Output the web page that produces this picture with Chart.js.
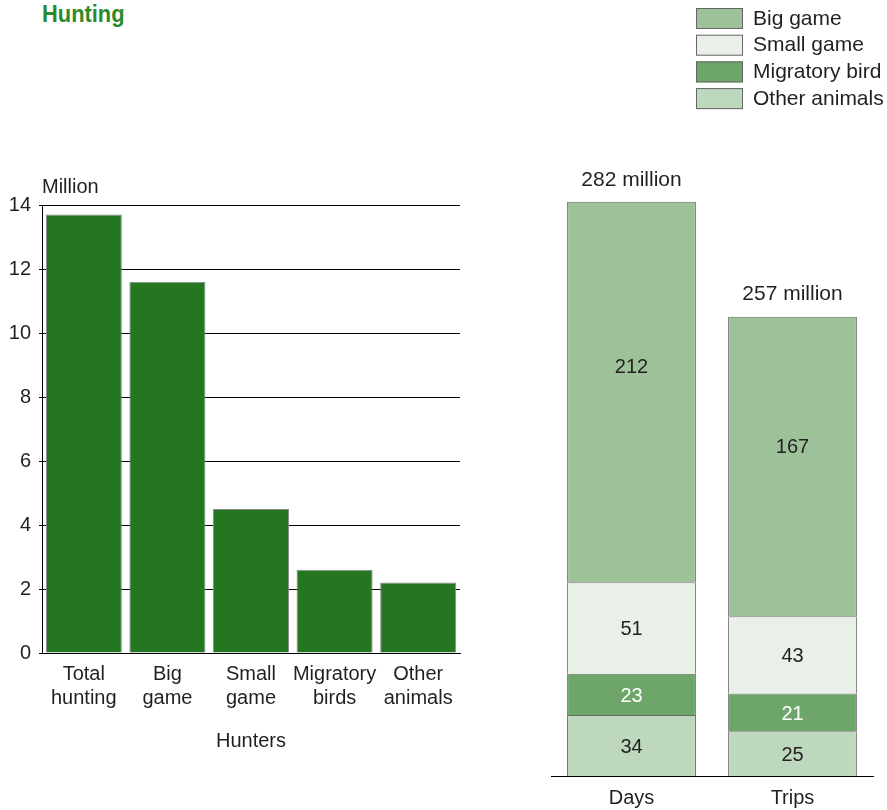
<!DOCTYPE html>
<html>
<head>
<meta charset="utf-8">
<script src="https://cdn.jsdelivr.net/npm/chart.js@4.4.1/dist/chart.umd.min.js"></script>
<style>
  html, body { margin: 0; padding: 0; background: #fff; width: 887px; height: 810px; overflow: hidden; }
  #title { position: absolute; left: 42px; top: 1px; font-family: "Liberation Sans", Arial, sans-serif; font-weight: bold; font-size: 23px; color: #2c8a2a; white-space: nowrap; transform: scaleX(0.95); transform-origin: left top; }
  #c1 { position: absolute; left: 0; top: 0; }
  #c2 { position: absolute; left: 540px; top: 0; }
</style>
</head>
<body>
<div id="title">Hunting</div>
<canvas id="c1" width="480" height="810"></canvas>
<canvas id="c2" width="347" height="810"></canvas>
<script>
// ---- Data ----
const hunterCategories = [["Total", "hunting"], ["Big", "game"], ["Small", "game"], ["Migratory", "birds"], ["Other", "animals"]];
const hunterValues = [13.7, 11.6, 4.5, 2.6, 2.2];
const yTicks = [0, 2, 4, 6, 8, 10, 12, 14];

const activityCategories = ["Days", "Trips"];
const activityTotals = [282, 257];
const seriesNames = ["Other animals", "Migratory bird", "Small game", "Big game"];
const otherAnimals = [34, 25];
const migratoryBird = [23, 21];
const smallGame = [51, 43];
const bigGame = [212, 167];

const FONT = "'Liberation Sans', Arial, Helvetica, sans-serif";
const TEXT = "#231f20";
Chart.defaults.font.family = FONT;
Chart.defaults.color = TEXT;

// ---- Left chart ----
const millionLabel = {
  id: 'millionLabel',
  afterDraw(chart) {
    const ctx = chart.ctx, a = chart.chartArea;
    ctx.save();
    ctx.font = "20px " + FONT;
    ctx.fillStyle = TEXT;
    ctx.textAlign = 'left';
    ctx.textBaseline = 'middle';
    ctx.fillText('Million', a.left, a.top - 18);
    ctx.restore();
  }
};

new Chart(document.getElementById('c1'), {
  type: 'bar',
  data: {
    labels: hunterCategories,
    datasets: [{
      label: 'Hunters',
      data: hunterValues,
      backgroundColor: '#257620',
      borderColor: '#8a8a8a',
      borderWidth: 1,
      categoryPercentage: 1.0,
      barPercentage: 0.91
    }]
  },
  options: {
    responsive: false,
    devicePixelRatio: 1,
    animation: false,
    layout: { padding: { top: 205, right: 20, left: 0, bottom: 0 } },
    plugins: { legend: { display: false }, tooltip: { enabled: false } },
    scales: {
      x: {
        grid: { display: false, drawTicks: false },
        border: { display: true, color: '#000', width: 1 },
        ticks: { font: { size: 20, lineHeight: 1.2 }, color: TEXT, padding: 9, maxRotation: 0, autoSkip: false },
        title: { display: true, text: 'Hunters', font: { size: 20, lineHeight: 1.2 }, color: TEXT, padding: { top: 0, bottom: 57 } },
        afterFit(s) { s.height = 157; }
      },
      y: {
        min: 0, max: 14,
        afterBuildTicks(s) { s.ticks = yTicks.map(v => ({ value: v })); },
        grid: { color: '#000', lineWidth: 1, tickLength: 3, drawTicks: true },
        border: { display: true, color: '#000', width: 1 },
        ticks: { font: { size: 20 }, color: TEXT, padding: 8 },
        afterFit(s) { s.width = 42; }
      }
    }
  },
  plugins: [millionLabel]
});

// ---- Right chart ----
const segColors = ['#bdd8bc', '#6ea66a', '#e8f0e8', '#9dc29a'];
const segLabelColors = [TEXT, '#ffffff', TEXT, TEXT];
const legendOrder = [3, 2, 1, 0];

const stackLabels = {
  id: 'stackLabels',
  afterDraw(chart) {
    const ctx = chart.ctx;
    ctx.save();
    ctx.font = "20px " + FONT;
    ctx.textAlign = 'center';
    ctx.textBaseline = 'middle';
    const n = chart.data.datasets.length;
    chart.data.datasets.forEach((ds, di) => {
      const meta = chart.getDatasetMeta(di);
      meta.data.forEach((el, i) => {
        const top = Math.min(el.y, el.base), bot = Math.max(el.y, el.base);
        const frac = di === n - 1 ? 0.43 : 0.5;
        ctx.fillStyle = segLabelColors[di];
        ctx.fillText(String(ds.data[i]), el.x, top + (bot - top) * frac + 2);
      });
    });
    // totals above bars
    const topMeta = chart.getDatasetMeta(n - 1);
    ctx.font = "21px " + FONT;
    ctx.fillStyle = TEXT;
    topMeta.data.forEach((el, i) => {
      ctx.fillText(activityTotals[i] + ' million', el.x, el.y - 22);
    });
    // legend
    ctx.font = "21px " + FONT;
    ctx.textAlign = 'left';
    legendOrder.forEach((di, k) => {
      const ds = chart.data.datasets[di];
      const y = 8 + k * 26.7;
      ctx.fillStyle = ds.backgroundColor;
      ctx.fillRect(156, y, 47, 21);
      ctx.strokeStyle = '#666';
      ctx.lineWidth = 1;
      ctx.strokeRect(156.5, y + 0.5, 46, 20);
      ctx.fillStyle = TEXT;
      ctx.fillText(ds.label, 213, y + 11);
    });
    ctx.restore();
  }
};

const seriesData = [otherAnimals, migratoryBird, smallGame, bigGame];

new Chart(document.getElementById('c2'), {
  type: 'bar',
  data: {
    labels: activityCategories,
    datasets: seriesData.map((d, i) => ({
      label: seriesNames[i],
      data: d,
      backgroundColor: segColors[i],
      borderColor: '#6b6b6b',
      borderWidth: 1,
      categoryPercentage: 1.0,
      barPercentage: 0.8
    }))
  },
  options: {
    responsive: false,
    devicePixelRatio: 1,
    animation: false,
    layout: { padding: { top: 148, right: 14, left: 11, bottom: 0 } },
    plugins: { legend: { display: false }, tooltip: { enabled: false } },
    scales: {
      x: {
        stacked: true,
        grid: { display: false, drawTicks: false },
        border: { display: true, color: '#000', width: 1 },
        ticks: { font: { size: 20, lineHeight: 1.2 }, color: TEXT, padding: 10 },
        afterFit(s) { s.height = 34; }
      },
      y: {
        stacked: true,
        display: false,
        min: 0, max: 350
      }
    }
  },
  plugins: [stackLabels]
});
</script>
</body>
</html>
